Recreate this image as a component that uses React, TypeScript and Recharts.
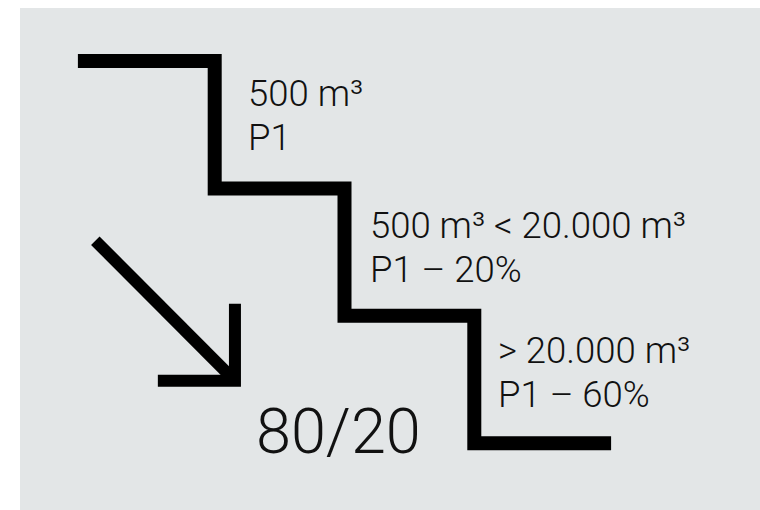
import { ComposedChart, Line, Scatter, XAxis, YAxis } from 'recharts';

// Treppe: vier Stufen, x = Stufe, y = Niveau
const stairs = [
  { x: 0, y: 3 },
  { x: 1, y: 2 },
  { x: 2, y: 1 },
  { x: 3, y: 0 },
  { x: 4, y: 0 },
];

// Pfeil nach unten rechts
const arrowShaft = [
  { x: 0.08, y: 1.59 },
  { x: 1.156, y: 0.49 },
];
const arrowHead = [
  { x: 1.156, y: 1.095 },
  { x: 1.156, y: 0.49 },
  { x: 0.562, y: 0.49 },
];

// Beschriftungen der Stufen
const stepLabels = [
  { x: 1.257, y: 2.647, lines: ['500 m³', 'P1'] },
  { x: 2.196, y: 1.611, lines: ['500 m³ < 20.000 m³', 'P1 – 20%'] },
  { x: 3.183, y: 0.63, lines: ['> 20.000 m³', 'P1 – 60%'] },
];
const ratioLabel = [{ x: 1.318, y: -0.076, lines: ['80/20'] }];

const FONT = 'Roboto, "Liberation Sans", Arial, sans-serif';

const makeText = (size: number, lineGap: number) => (props: any) => {
  const { cx, cy, payload } = props;
  return (
    <text x={cx} y={cy} fontFamily={FONT} fontWeight={300} fontSize={size} fill="#111">
      {payload.lines.map((l: string, i: number) => (
        <tspan key={i} x={cx} dy={i === 0 ? 0 : lineGap}>
          {l}
        </tspan>
      ))}
    </text>
  );
};

export default function App() {
  return (
    <div style={{ position: 'relative', width: 760, height: 510, background: '#fff', overflow: 'hidden' }}>
      <style>{`body{margin:0;overflow:hidden}`}</style>
      <div style={{ position: 'absolute', left: 20, top: 8, right: 0, bottom: 0, background: '#e3e6e7' }} />
      <div style={{ position: 'absolute', left: 0, top: 0 }}>
        <ComposedChart width={760} height={510} margin={{ top: 10, right: 91, bottom: 3, left: 20 }}>
          <XAxis type="number" dataKey="x" domain={[-0.5, 4.5]} hide />
          <YAxis type="number" dataKey="y" domain={[-0.5, 3.4]} hide />
          <Line
            data={stairs}
            dataKey="y"
            type="stepAfter"
            stroke="#000"
            strokeWidth={14}
            strokeLinecap="square"
            strokeLinejoin="miter"
            dot={false}
            activeDot={false}
            isAnimationActive={false}
          />
          <Line
            data={arrowShaft}
            dataKey="y"
            type="linear"
            stroke="#000"
            strokeWidth={12}
            strokeLinecap="butt"
            dot={false}
            activeDot={false}
            isAnimationActive={false}
          />
          <Line
            data={arrowHead}
            dataKey="y"
            type="linear"
            stroke="#000"
            strokeWidth={12}
            strokeLinecap="butt"
            strokeLinejoin="miter"
            dot={false}
            activeDot={false}
            isAnimationActive={false}
          />
          <Scatter data={stepLabels} dataKey="y" shape={makeText(36.5, 44)} isAnimationActive={false} />
          <Scatter data={ratioLabel} dataKey="y" shape={makeText(63, 0)} isAnimationActive={false} />
        </ComposedChart>
      </div>
    </div>
  );
}
